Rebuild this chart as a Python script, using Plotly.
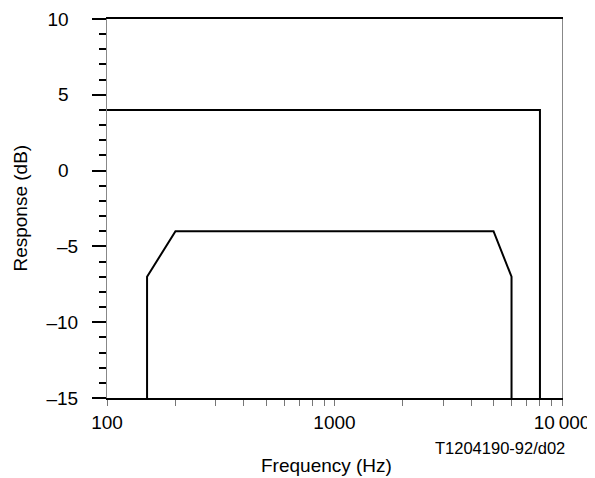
import plotly.graph_objects as go

# Data
upper_freq = [100, 8000, 8000]
upper_db = [4, 4, -15]
lower_freq = [150, 150, 200, 5000, 6000, 6000]
lower_db = [-15, -7, -4, -4, -7, -15]

x_major = [100, 1000, 10000]
x_major_text = ["100", "1000", "10\u2009000"]
y_major = [10, 5, 0, -5, -10, -15]
y_major_text = ["10\u2002", "5\u2002", "0\u2002", "\u20135", "\u201310", "\u201315"]

x_minor = [m * d for d in (100, 1000) for m in range(2, 10)]

font = "Liberation Sans, Arial, sans-serif"
FS = 19

fig = go.Figure()
fig.add_trace(go.Scatter(x=upper_freq, y=upper_db, mode="lines",
                         line=dict(color="black", width=2), showlegend=False))
fig.add_trace(go.Scatter(x=lower_freq, y=lower_db, mode="lines",
                         line=dict(color="black", width=2), showlegend=False))

tickvals = x_major + x_minor
ticktext = x_major_text + [""] * len(x_minor)

fig.update_layout(
    width=587, height=470,
    margin=dict(l=99, r=33, t=11, b=80),
    paper_bgcolor="white", plot_bgcolor="white",
    font=dict(family=font, size=FS, color="black"),
    xaxis=dict(
        type="log", range=[2, 4], automargin=False,
        tickvals=tickvals, ticktext=ticktext, ticklabeloverflow="allow",
        ticks="outside", ticklen=6, tickwidth=1, tickcolor="#777",
        showgrid=False, zeroline=False,
        showline=True, linecolor="black", linewidth=2, mirror=True,
    ),
    yaxis=dict(
        range=[-15, 10], automargin=False,
        tickvals=y_major, ticktext=y_major_text,
        ticks="outside", ticklen=14, tickwidth=2, tickcolor="black",
        ticklabelstandoff=10,
        minor=dict(dtick=1, tick0=0, ticks="outside", ticklen=7,
                   tickwidth=2, tickcolor="black", showgrid=False),
        showgrid=False, zeroline=False,
        showline=True, linecolor="#888", linewidth=1, mirror=True,
    ),
    annotations=[
        dict(text="Frequency (Hz)", xref="paper", yref="paper",
             x=0.4835, y=-0.178, xanchor="center", yanchor="middle",
             showarrow=False, font=dict(size=FS)),
        dict(text="Response (dB)", xref="paper", yref="paper",
             x=-0.191, y=0.5, xanchor="center", yanchor="middle", textangle=-90,
             showarrow=False, font=dict(size=FS)),
        dict(text="T1204190-92/d02", xref="paper", yref="paper",
             x=1.011, y=-0.131, xanchor="right", yanchor="middle",
             showarrow=False, font=dict(size=16.5)),
    ],
)

fig.write_html("out.html")
